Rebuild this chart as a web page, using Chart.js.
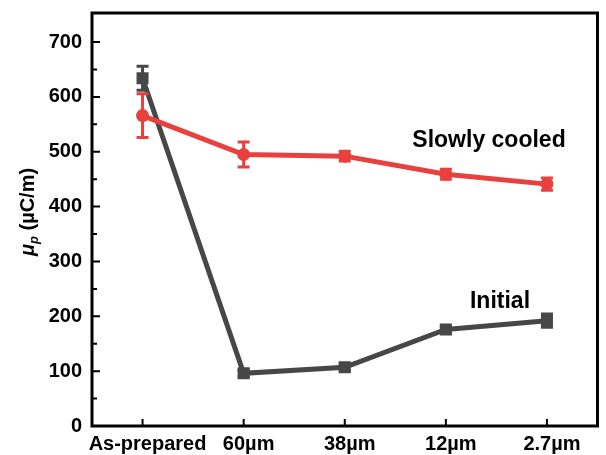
<!DOCTYPE html>
<html>
<head>
<meta charset="utf-8">
<script src="https://cdn.jsdelivr.net/npm/chart.js@4"></script>
<style>
  html, body { margin: 0; padding: 0; background: #fff; }
  #wrap { width: 606px; height: 455px; }
</style>
</head>
<body>
<div id="wrap"><canvas id="myChart" width="606" height="455"></canvas></div>
<script>
const categories = ['As-prepared', '60\u00b5m', '38\u00b5m', '12\u00b5m', '2.7\u00b5m'];
const cooledValues = [566, 495, 492, 459, 441];
const cooledErrors = [40, 23, 9, 9, 11];
const initialValues = [634, 96, 107, 176, 192];
const initialErrors = [22, 6, 6, 6, 12];
const yTicks = [0, 100, 200, 300, 400, 500, 600, 700];

const RED = '#e8403e';
const GRAY = '#474747';
const FONT = '"Liberation Sans", Arial, sans-serif';

// error bars, drawn right after each dataset so the layering stays right
const errorBars = {
    id: 'errorBars',
    afterDatasetDraw(chart, args) {
        const ds = chart.data.datasets[args.index];
        if (!ds.errors) return;
        const ctx = chart.ctx;
        const y = chart.scales.y;
        ctx.save();
        ctx.strokeStyle = ds.borderColor;
        ctx.lineWidth = 3;
        args.meta.data.forEach((pt, i) => {
            const v = ds.data[i];
            const e = ds.errors[i];
            const top = y.getPixelForValue(v + e);
            const bot = y.getPixelForValue(v - e);
            ctx.beginPath();
            ctx.moveTo(pt.x, top);
            ctx.lineTo(pt.x, bot);
            ctx.moveTo(pt.x - 6, top);
            ctx.lineTo(pt.x + 6, top);
            ctx.moveTo(pt.x - 6, bot);
            ctx.lineTo(pt.x + 6, bot);
            ctx.stroke();
        });
        ctx.restore();
    }
};

// frame, inward ticks, labels and the axis title
const decorations = {
    id: 'decorations',
    afterDraw(chart) {
        const ctx = chart.ctx;
        const a = chart.chartArea;
        const x = chart.scales.x;
        const y = chart.scales.y;
        ctx.save();
        ctx.strokeStyle = '#000';
        ctx.lineWidth = 3;
        ctx.strokeRect(a.left, a.top, a.right - a.left, a.bottom - a.top);

        ctx.lineWidth = 2;
        ctx.beginPath();
        for (let v = 50; v <= 700; v += 50) {
            const py = y.getPixelForValue(v);
            const len = v % 100 === 0 ? 8 : 5;
            ctx.moveTo(a.left, py);
            ctx.lineTo(a.left + len, py);
        }
        categories.forEach((c, i) => {
            const px = x.getPixelForValue(i);
            ctx.moveTo(px, a.bottom);
            ctx.lineTo(px, a.bottom - 7);
        });
        ctx.stroke();

        ctx.fillStyle = '#000';
        ctx.font = 'bold 23px ' + FONT;
        ctx.textAlign = 'center';
        ctx.textBaseline = 'middle';
        ctx.fillText('Slowly cooled', 489, 141);
        ctx.fillText('Initial', 500, 302);

        // y title: mu with subscript p
        ctx.translate(27, 212);
        ctx.rotate(-Math.PI / 2);
        const mu = '\u03bc';
        const rest = ' (\u00b5C/m)';
        ctx.font = 'italic bold 20px ' + FONT;
        const wMu = ctx.measureText(mu).width;
        ctx.font = 'italic bold 13px ' + FONT;
        const wP = ctx.measureText('p').width;
        ctx.font = 'bold 20px ' + FONT;
        const wRest = ctx.measureText(rest).width;
        let sx = -(wMu + wP + wRest) / 2;
        ctx.textAlign = 'left';
        ctx.textBaseline = 'alphabetic';
        ctx.font = 'italic bold 20px ' + FONT;
        ctx.fillText(mu, sx, 7);
        sx += wMu;
        ctx.font = 'italic bold 13px ' + FONT;
        ctx.fillText('p', sx, 11);
        sx += wP;
        ctx.font = 'bold 20px ' + FONT;
        ctx.fillText(rest, sx, 7);
        ctx.restore();
    }
};

const ctx = document.getElementById('myChart').getContext('2d');
const myChart = new Chart(ctx, {
    type: 'line',
    data: {
        labels: categories,
        datasets: [{
            label: 'Slowly cooled',
            data: cooledValues,
            errors: cooledErrors,
            borderColor: RED,
            backgroundColor: RED,
            borderWidth: 5,
            pointStyle: 'circle',
            pointRadius: 6.5,
            pointBorderWidth: 0,
            order: 0
        }, {
            label: 'Initial',
            data: initialValues,
            errors: initialErrors,
            borderColor: GRAY,
            backgroundColor: GRAY,
            borderWidth: 5,
            pointStyle: 'rect',
            pointRadius: 8.5,
            pointBorderWidth: 0,
            order: 1
        }]
    },
    options: {
        responsive: false,
        animation: false,
        layout: { padding: { top: 13, right: 3, left: 0, bottom: 0 } },
        plugins: {
            legend: { display: false },
            tooltip: { enabled: false }
        },
        scales: {
            x: {
                type: 'category',
                offset: true,
                grid: { display: false, drawTicks: false },
                border: { display: false },
                ticks: {
                    color: '#000',
                    font: { family: FONT, size: 20, weight: 'bold' },
                    padding: 6,
                    labelOffset: 5,
                    maxRotation: 0,
                    autoSkip: false
                },
                afterFit: s => { s.height = 29; }
            },
            y: {
                min: 0,
                max: 753,
                grid: { display: false, drawTicks: false },
                border: { display: false },
                afterBuildTicks: s => { s.ticks = yTicks.map(v => ({ value: v })); },
                ticks: {
                    color: '#000',
                    font: { family: FONT, size: 20, weight: 'bold' },
                    padding: 10
                },
                afterFit: s => {
                    s.width = 92;
                    s.paddingTop = 0;
                    s.paddingBottom = 0;
                }
            }
        }
    },
    plugins: [errorBars, decorations]
});
</script>
</body>
</html>
